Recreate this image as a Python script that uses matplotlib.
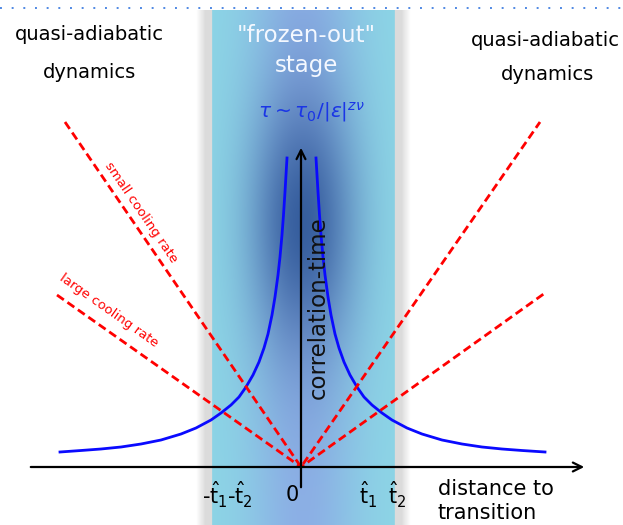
import numpy as np
import matplotlib
matplotlib.use('Agg')
import matplotlib.pyplot as plt
from matplotlib.lines import Line2D

# blue correlation-time curve, tau ~ tau0/|eps|^(z nu)
left_x = [-2.41, -2.2, -2.0, -1.8, -1.6, -1.4, -1.2, -1.05, -0.9, -0.8, -0.7, -0.62, -0.55,
          -0.48, -0.42, -0.37, -0.33, -0.29, -0.26, -0.23, -0.21, -0.19, -0.175, -0.16, -0.15, -0.14]
left_tau = [0.15, 0.165, 0.18, 0.20, 0.23, 0.27, 0.33, 0.39, 0.47, 0.54, 0.62, 0.70, 0.80,
            0.92, 1.05, 1.19, 1.33, 1.52, 1.70, 1.92, 2.10, 2.32, 2.52, 2.75, 2.92, 3.09]
right_x = [0.15, 0.16, 0.17, 0.185, 0.2, 0.22, 0.24, 0.27, 0.30, 0.34, 0.38, 0.43, 0.49,
           0.56, 0.63, 0.71, 0.81, 0.91, 1.06, 1.21, 1.41, 1.61, 1.81, 2.01, 2.21, 2.44]
right_tau = [3.09, 2.92, 2.75, 2.52, 2.32, 2.10, 1.92, 1.70, 1.52, 1.33, 1.19, 1.05, 0.92,
             0.80, 0.70, 0.62, 0.54, 0.47, 0.39, 0.33, 0.27, 0.23, 0.20, 0.18, 0.165, 0.15]

# red dashed relaxation lines (small / large cooling rate)
small_rate_x = [-2.36, 0.0, 2.39]
small_rate_y = [3.45, 0.0, 3.45]
large_rate_x = [-2.44, 0.0, 2.44]
large_rate_y = [1.72, 0.0, 1.74]

# tick labels on the distance axis
tick_pos = [-0.86, -0.61, -0.09, 0.67, 0.96]
tick_labels = [r'-$\hat{\mathrm{t}}_1$', r'-$\hat{\mathrm{t}}_2$', '0',
               r'$\hat{\mathrm{t}}_1$', r'$\hat{\mathrm{t}}_2$']

# frozen-out band edges
band_left, band_right = -0.96, 1.01

fig = plt.figure(figsize=(6.23, 5.25), dpi=100)
ax = fig.add_axes([0, 0, 1, 1])
ax.set_xlim(-3.01, 3.22)
ax.set_ylim(-0.58, 4.67)
ax.axis('off')

# background band with gradient
nx, ny = 240, 300
x0, x1 = band_left - 0.09, band_right + 0.09
y0, y1 = -0.58, 4.57
xs = np.linspace(x0, x1, nx)
ys = np.linspace(y0, y1, ny)
X, Y = np.meshgrid(xs, ys)
cyan = np.array([0.55, 0.84, 0.90])
peri = np.array([0.55, 0.69, 0.90])
navy = np.array([0.13, 0.29, 0.55])
gray = np.array([0.86, 0.86, 0.86])
white = np.array([1.0, 1.0, 1.0])
xc = 0.02
w = np.exp(-((X - xc) / 0.55) ** 2)[..., None]
img = cyan * (1 - w) + peri * w
d = (0.8 * np.exp(-((X - xc) / 0.5) ** 2 - ((Y - 2.45) / 1.3) ** 2))[..., None]
img = img * (1 - d) + navy * d
# gray edges fading out to white
inner = (X >= band_left + 0.07) & (X <= band_right - 0.07)
edge = (~inner) & (X >= band_left) & (X <= band_right)
img[edge] = gray
t = np.clip((band_left - X) / 0.09, 0, 1)[..., None]
img = np.where((X < band_left)[..., None], gray * (1 - t) + white * t, img)
t = np.clip((X - band_right) / 0.09, 0, 1)[..., None]
img = np.where((X > band_right)[..., None], gray * (1 - t) + white * t, img)
ax.imshow(img, extent=[x0, x1, y0, y1], origin='lower', aspect='auto',
          interpolation='bilinear', zorder=0)

# dotted frame line on top
fig.add_artist(Line2D([0, 1], [0.985, 0.985], transform=fig.transFigure,
                      color='#4f88e3', lw=1.4, ls=(0, (1, 5))))

# axes arrows
ax.annotate('', xy=(2.86, 0), xytext=(-2.73, 0),
            arrowprops=dict(arrowstyle='->', lw=1.6, color='k', mutation_scale=16))
ax.annotate('', xy=(0, 3.22), xytext=(0, -0.23),
            arrowprops=dict(arrowstyle='->', lw=1.6, color='k', mutation_scale=16))

# curves
ax.plot(left_x, left_tau, color='#0a0aff', lw=2)
ax.plot(right_x, right_tau, color='#0a0aff', lw=2)
ax.plot(small_rate_x, small_rate_y, color='#ff0000', lw=2, dashes=(3, 1.6))
ax.plot(large_rate_x, large_rate_y, color='#ff0000', lw=2, dashes=(3, 1.6))

# texts
ax.text(-2.12, 4.32, 'quasi-adiabatic', fontsize=14, ha='center', va='center')
ax.text(-2.12, 3.94, 'dynamics', fontsize=14, ha='center', va='center')
ax.text(2.44, 4.27, 'quasi-adiabatic', fontsize=14, ha='center', va='center')
ax.text(2.47, 3.92, 'dynamics', fontsize=14, ha='center', va='center')
ax.text(0.05, 4.32, '"frozen-out"', fontsize=16.5, ha='center', va='center', color='#f4f8ff')
ax.text(0.05, 4.02, 'stage', fontsize=16.5, ha='center', va='center', color='#f4f8ff')
ax.text(0.10, 3.55, r'$\tau\sim\tau_0/|\epsilon|^{z\nu}$', fontsize=14.5,
        ha='center', va='center', color='#1a35e6')
ax.text(0.17, 1.59, 'correlation-time', fontsize=16.5, rotation=90,
        ha='center', va='center', color='#111111')
ax.text(1.37, -0.22, 'distance to', fontsize=15, ha='left', va='center')
ax.text(1.37, -0.46, 'transition', fontsize=15, ha='left', va='center')
ax.text(-1.60, 2.55, 'small cooling rate', fontsize=9.5, color='#ff0000',
        rotation=-55.6, ha='center', va='center', rotation_mode='anchor')
ax.text(-1.92, 1.56, 'large cooling rate', fontsize=9.5, color='#ff0000',
        rotation=-35.2, ha='center', va='center', rotation_mode='anchor')
for pos, lab in zip(tick_pos, tick_labels):
    ax.text(pos, -0.28, lab, fontsize=15, ha='center', va='center')

fig.savefig('out.png', dpi=100)
